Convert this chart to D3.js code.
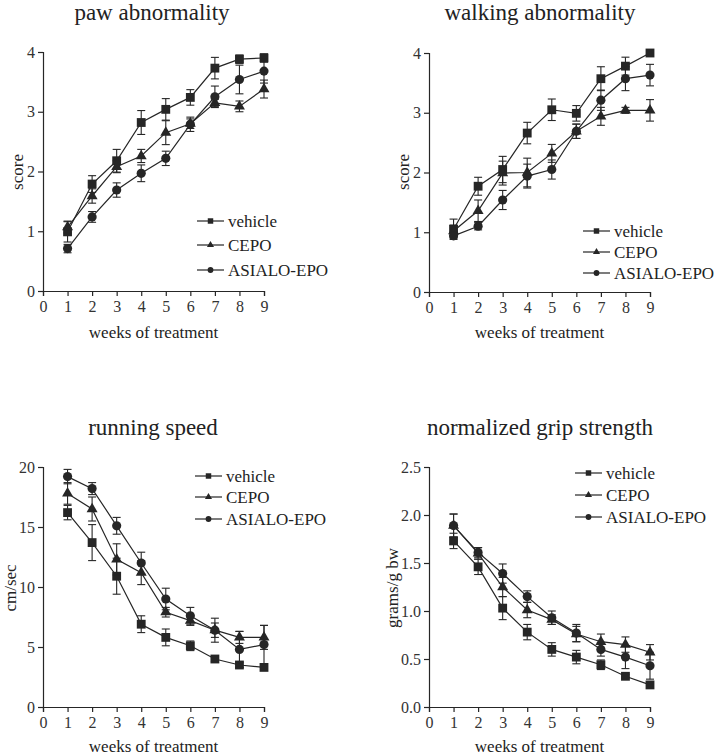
<!DOCTYPE html>
<html>
<head>
<meta charset="utf-8">
<script src="https://cdn.jsdelivr.net/npm/d3@7"></script>
<style>
  html, body { margin: 0; padding: 0; background: #fff; }
  svg { display: block; }
  svg text { font-family: "Liberation Serif", "Times New Roman", serif; }
</style>
</head>
<body>
<svg id="chart" width="717" height="756"></svg>
<script>
// ---------- DATA ----------
const weeks = [1, 2, 3, 4, 5, 6, 7, 8, 9];
const xTicks = [0, 1, 2, 3, 4, 5, 6, 7, 8, 9];
const seriesNames = ["vehicle", "CEPO", "ASIALO-EPO"];
const titles = ["paw abnormality", "walking abnormality", "running speed", "normalized grip strength"];
const yLabels = ["score", "score", "cm/sec", "grams/g bw"];
const xLabel = "weeks of treatment";

const scoreTicks = [0, 1, 2, 3, 4];
const speedTicks = [0, 5, 10, 15, 20];
const gripTicks = [0.0, 0.5, 1.0, 1.5, 2.0, 2.5];

// paw abnormality
const pawVehicle    = [0.99, 1.79, 2.18, 2.82, 3.04, 3.24, 3.73, 3.88, 3.90];
const pawVehicleErr = [0.17, 0.14, 0.19, 0.20, 0.18, 0.13, 0.18, 0.07, 0.07];
const pawCepo       = [1.07, 1.59, 2.08, 2.26, 2.65, 2.80, 3.15, 3.09, 3.38];
const pawCepoErr    = [0.10, 0.12, 0.10, 0.11, 0.20, 0.08, 0.06, 0.09, 0.15];
const pawAsialo     = [0.71, 1.24, 1.69, 1.97, 2.22, 2.79, 3.25, 3.54, 3.68];
const pawAsialoErr  = [0.07, 0.09, 0.12, 0.14, 0.12, 0.12, 0.18, 0.24, 0.20];

// walking abnormality
const walkVehicle    = [1.05, 1.77, 2.05, 2.66, 3.05, 2.99, 3.57, 3.78, 4.00];
const walkVehicleErr = [0.17, 0.15, 0.22, 0.18, 0.18, 0.13, 0.20, 0.15, 0.00];
const walkCepo       = [1.02, 1.36, 1.99, 2.00, 2.32, 2.69, 2.94, 3.04, 3.04];
const walkCepoErr    = [0.10, 0.18, 0.20, 0.24, 0.15, 0.12, 0.15, 0.05, 0.18];
const walkAsialo     = [0.94, 1.10, 1.54, 1.94, 2.05, 2.69, 3.21, 3.57, 3.63];
const walkAsialoErr  = [0.04, 0.06, 0.16, 0.20, 0.16, 0.12, 0.17, 0.20, 0.18];

// running speed
const runVehicle    = [16.2, 13.7, 10.9, 6.9, 5.8, 5.1, 4.0, 3.5, 3.3];
const runVehicleErr = [0.6, 1.5, 1.5, 0.7, 0.7, 0.4, 0.2, 0.2, 0.2];
const runCepo       = [17.8, 16.5, 12.3, 11.2, 7.9, 7.2, 6.4, 5.8, 5.8];
const runCepoErr    = [0.9, 1.0, 1.3, 1.0, 0.4, 0.4, 0.6, 0.5, 1.0];
const runAsialo     = [19.2, 18.2, 15.1, 12.0, 9.0, 7.6, 6.4, 4.8, 5.2];
const runAsialoErr  = [0.6, 0.5, 0.7, 0.9, 0.9, 0.7, 1.0, 1.5, 1.6];

// normalized grip strength
const gripVehicle    = [1.73, 1.46, 1.03, 0.78, 0.60, 0.52, 0.44, 0.32, 0.23];
const gripVehicleErr = [0.08, 0.08, 0.12, 0.08, 0.07, 0.07, 0.05, 0.02, 0.03];
const gripCepo       = [1.89, 1.60, 1.25, 1.01, 0.91, 0.76, 0.68, 0.65, 0.57];
const gripCepoErr    = [0.12, 0.06, 0.10, 0.08, 0.05, 0.08, 0.08, 0.08, 0.08];
const gripAsialo     = [1.89, 1.61, 1.39, 1.15, 0.93, 0.77, 0.60, 0.52, 0.43];
const gripAsialoErr  = [0.12, 0.05, 0.10, 0.06, 0.07, 0.09, 0.07, 0.12, 0.14];

// ---------- LAYOUT ----------
const panels = [
  { title: titles[0], ylabel: yLabels[0], ticks: scoreTicks, fmt: d3.format("d"),
    vals: [pawVehicle, pawCepo, pawAsialo], errs: [pawVehicleErr, pawCepoErr, pawAsialoErr],
    x0: 43, x1: 264, yTop: 52, yBot: 291, titleX: 152, titleY: 20, ylabX: 17, ylabY: 172,
    xlabY: 338, legX: 197, legY: [221, 245, 270] },
  { title: titles[1], ylabel: yLabels[1], ticks: scoreTicks, fmt: d3.format("d"),
    vals: [walkVehicle, walkCepo, walkAsialo], errs: [walkVehicleErr, walkCepoErr, walkAsialoErr],
    x0: 429, x1: 650, yTop: 53, yBot: 292, titleX: 540, titleY: 20, ylabX: 403, ylabY: 172,
    xlabY: 338, legX: 583, legY: [231, 252, 273] },
  { title: titles[2], ylabel: yLabels[2], ticks: speedTicks, fmt: d3.format("d"),
    vals: [runVehicle, runCepo, runAsialo], errs: [runVehicleErr, runCepoErr, runAsialoErr],
    x0: 43, x1: 264, yTop: 467, yBot: 707, titleX: 153, titleY: 435, ylabX: 10, ylabY: 588,
    xlabY: 752, legX: 195, legY: [476, 497, 519] },
  { title: titles[3], ylabel: yLabels[3], ticks: gripTicks, fmt: d3.format(".1f"),
    vals: [gripVehicle, gripCepo, gripAsialo], errs: [gripVehicleErr, gripCepoErr, gripAsialoErr],
    x0: 429, x1: 650, yTop: 467, yBot: 707, titleX: 540, titleY: 435, ylabX: 392, ylabY: 588,
    xlabY: 752, legX: 575, legY: [473, 495, 517] }
];

const ink = "#262626";
const serif = '"Liberation Serif", "Times New Roman", serif';
const svg = d3.select("#chart");

const symbols = [d3.symbolSquare, d3.symbolTriangle, d3.symbolCircle];
const symSizes = [78, 52, 66];
const legSizes = [30, 22, 26];

panels.forEach(p => {
  const g = svg.append("g");
  const x = d3.scaleLinear().domain([0, 9]).range([p.x0, p.x1]);
  const y = d3.scaleLinear().domain([p.ticks[0], p.ticks[p.ticks.length - 1]]).range([p.yBot, p.yTop]);

  // axes
  const xa = g.append("g").attr("transform", `translate(0,${p.yBot})`)
    .call(d3.axisBottom(x).tickValues(xTicks).tickSize(5).tickPadding(5).tickFormat(d3.format("d")));
  const ya = g.append("g").attr("transform", `translate(${p.x0},0)`)
    .call(d3.axisLeft(y).tickValues(p.ticks).tickSize(5).tickPadding(3).tickFormat(p.fmt));
  [xa, ya].forEach(a => {
    a.attr("font-family", serif).attr("font-size", 16);
    a.select(".domain").attr("stroke", ink).attr("stroke-width", 1.2);
    a.selectAll(".tick line").attr("stroke", ink).attr("stroke-width", 1.2);
    a.selectAll(".tick text").attr("font-family", serif).attr("font-size", 16).attr("fill", "#333");
  });

  // title & labels
  g.append("text").attr("x", p.titleX).attr("y", p.titleY).attr("text-anchor", "middle")
    .attr("font-family", serif).attr("font-size", 23).attr("fill", "#222").text(p.title);
  g.append("text").attr("transform", `translate(${p.ylabX},${p.ylabY}) rotate(-90)`)
    .attr("text-anchor", "middle").attr("dy", "0.35em").attr("font-family", serif)
    .attr("font-size", 17).attr("fill", "#222").text(p.ylabel);
  g.append("text").attr("x", (p.x0 + p.x1) / 2).attr("y", p.xlabY).attr("text-anchor", "middle")
    .attr("font-family", serif).attr("font-size", 17).attr("fill", "#222").text(xLabel);

  // series
  p.vals.forEach((vals, si) => {
    const errs = p.errs[si];
    const pts = weeks.map((w, i) => ({ w, v: vals[i], e: errs[i] }));
    const sg = g.append("g");
    // error bars
    pts.forEach(d => {
      if (d.e <= 0) return;
      const cx = x(d.w);
      sg.append("line").attr("x1", cx).attr("x2", cx).attr("y1", y(d.v - d.e)).attr("y2", y(d.v + d.e))
        .attr("stroke", ink).attr("stroke-width", 1.1);
      [d.v - d.e, d.v + d.e].forEach(v => {
        sg.append("line").attr("x1", cx - 4).attr("x2", cx + 4).attr("y1", y(v)).attr("y2", y(v))
          .attr("stroke", ink).attr("stroke-width", 1.1);
      });
    });
    // line
    sg.append("path").datum(pts)
      .attr("d", d3.line().x(d => x(d.w)).y(d => y(d.v)))
      .attr("fill", "none").attr("stroke", ink).attr("stroke-width", 1.2);
    // markers
    sg.selectAll("path.m").data(pts).join("path").attr("class", "m")
      .attr("transform", d => `translate(${x(d.w)},${y(d.v)})`)
      .attr("d", d3.symbol().type(symbols[si]).size(symSizes[si]))
      .attr("fill", ink);
  });

  // legend
  seriesNames.forEach((name, si) => {
    const ly = p.legY[si];
    const lg = g.append("g");
    lg.append("line").attr("x1", p.legX).attr("x2", p.legX + 27).attr("y1", ly).attr("y2", ly)
      .attr("stroke", ink).attr("stroke-width", 1.2);
    lg.append("path").attr("transform", `translate(${p.legX + 13.5},${ly})`)
      .attr("d", d3.symbol().type(symbols[si]).size(legSizes[si])).attr("fill", ink);
    lg.append("text").attr("x", p.legX + 31).attr("y", ly).attr("dy", "0.35em")
      .attr("font-family", serif).attr("font-size", 17).attr("fill", "#222").text(name);
  });
});
</script>
</body>
</html>
